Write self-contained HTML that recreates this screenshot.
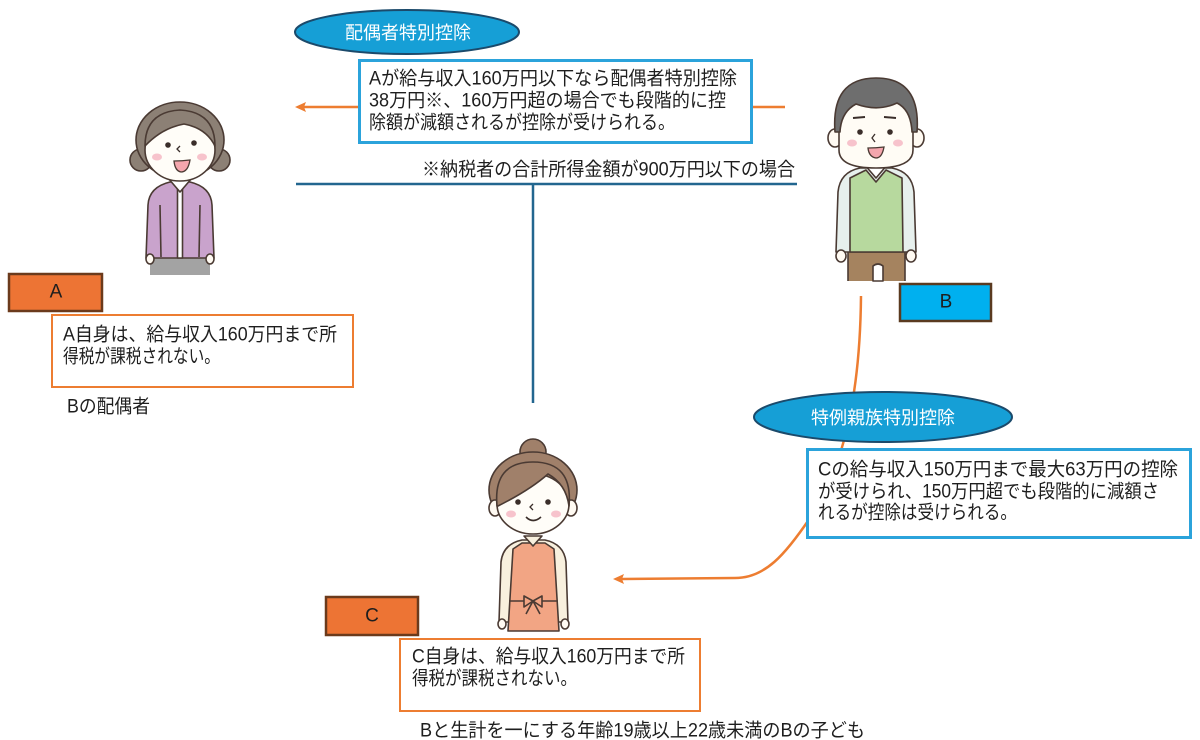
<!DOCTYPE html>
<html><head><meta charset="utf-8">
<style>
html,body{margin:0;padding:0;background:#fff;}
#c{position:relative;width:1200px;height:740px;overflow:hidden;background:#fff;}
svg{position:absolute;left:0;top:0;}
text{font-family:"Liberation Sans","Noto Sans CJK JP",sans-serif;font-size:19px;fill:#1e1e1e;}
</style></head>
<body><div id="c">
<svg width="1200" height="740" viewBox="0 0 1200 740" xmlns="http://www.w3.org/2000/svg">

<!-- connectors -->
<line x1="785" y1="107" x2="304" y2="107" stroke="#ed7d31" stroke-width="2.5"/>
<path d="M295,107 L306,102 L304,107 L306,112 Z" fill="#ed7d31"/>
<line x1="296" y1="184" x2="797" y2="184" stroke="#22668f" stroke-width="2.5"/>
<line x1="533" y1="184" x2="533" y2="403" stroke="#22668f" stroke-width="2.5"/>
<path d="M861,296 C860,400 842,470 810,518 C785,555 765,578 735,578 L622,579" fill="none" stroke="#ed7d31" stroke-width="2.5"/>
<path d="M613,579 L624,574 L622,579 L624,584 Z" fill="#ed7d31"/>

<!-- top ellipse + box -->
<ellipse cx="407" cy="32" rx="112" ry="22" fill="#169fd6" stroke="#1b4a6b" stroke-width="2"/>
<text x="408" y="33" text-anchor="middle" dominant-baseline="central" style="fill:#fff;font-size:18px">配偶者特別控除</text>
<rect x="359.5" y="60.5" width="392" height="82" fill="#fff" stroke="#2ba3db" stroke-width="3"/>
<text x="369" y="79" dominant-baseline="central" textLength="368" lengthAdjust="spacingAndGlyphs">Aが給与収入160万円以下なら配偶者特別控除</text>
<text x="369" y="101" dominant-baseline="central" textLength="357" lengthAdjust="spacingAndGlyphs">38万円※、160万円超の場合でも段階的に控</text>
<text x="369" y="123" dominant-baseline="central" textLength="306" lengthAdjust="spacingAndGlyphs">除額が減額されるが控除が受けられる。</text>

<text x="422" y="170" dominant-baseline="central" textLength="373" lengthAdjust="spacingAndGlyphs">※納税者の合計所得金額が900万円以下の場合</text>

<!-- right ellipse + box -->
<ellipse cx="883" cy="417" rx="129" ry="25" fill="#169fd6" stroke="#1b4a6b" stroke-width="2"/>
<text x="883" y="418" text-anchor="middle" dominant-baseline="central" style="fill:#fff;font-size:18px">特例親族特別控除</text>
<rect x="807.5" y="449.5" width="383" height="88" fill="#fff" stroke="#2ba3db" stroke-width="3"/>
<text x="818" y="470" dominant-baseline="central" textLength="360" lengthAdjust="spacingAndGlyphs">Cの給与収入150万円まで最大63万円の控除</text>
<text x="818" y="492" dominant-baseline="central" textLength="341" lengthAdjust="spacingAndGlyphs">が受けられ、150万円超でも段階的に減額さ</text>
<text x="818" y="513" dominant-baseline="central" textLength="199" lengthAdjust="spacingAndGlyphs">れるが控除は受けられる。</text>

<!-- Label boxes -->
<rect x="9" y="274" width="93" height="37" fill="#ed7434" stroke="#6b3a1c" stroke-width="2.5"/>
<text x="56" y="292" text-anchor="middle" dominant-baseline="central">A</text>
<rect x="900" y="284" width="91" height="37" fill="#00b0ef" stroke="#5a3a20" stroke-width="2.5"/>
<text x="946" y="302" text-anchor="middle" dominant-baseline="central">B</text>
<rect x="326" y="597" width="92" height="38" fill="#ed7434" stroke="#6b3a1c" stroke-width="2.5"/>
<text x="372" y="616" text-anchor="middle" dominant-baseline="central">C</text>

<!-- A text box -->
<rect x="52" y="315" width="301" height="72" fill="#fff" stroke="#ed7d31" stroke-width="2"/>
<text x="63" y="335" dominant-baseline="central" textLength="274" lengthAdjust="spacingAndGlyphs">A自身は、給与収入160万円まで所</text>
<text x="63" y="357" dominant-baseline="central" textLength="157" lengthAdjust="spacingAndGlyphs">得税が課税されない。</text>
<text x="67" y="407" dominant-baseline="central" textLength="83" lengthAdjust="spacingAndGlyphs">Bの配偶者</text>

<!-- C text box -->
<rect x="400" y="639" width="300" height="72" fill="#fff" stroke="#ed7d31" stroke-width="2"/>
<text x="412" y="657" dominant-baseline="central" textLength="273" lengthAdjust="spacingAndGlyphs">C自身は、給与収入160万円まで所</text>
<text x="412" y="679" dominant-baseline="central" textLength="165" lengthAdjust="spacingAndGlyphs">得税が課税されない。</text>
<text x="420" y="731" dominant-baseline="central" textLength="445" lengthAdjust="spacingAndGlyphs">Bと生計を一にする年齢19歳以上22歳未満のBの子ども</text>

<!-- Person A -->
<g stroke="#4a3a33" stroke-width="1.6" stroke-linejoin="round">
<rect x="150" y="250" width="60" height="25" fill="#a3a3a3" stroke="none"/>
<path d="M148,205 Q149,187 170,182 L190,182 Q211,187 212,205 L214,258 L146,258 Z" fill="#c9a3cc"/>
<rect x="177.5" y="186" width="5" height="72" fill="#fff"/>
<line x1="160" y1="205" x2="161" y2="257"/>
<line x1="200" y1="205" x2="199" y2="257"/>
<ellipse cx="150" cy="259" rx="4" ry="5" fill="#fffaf2"/>
<ellipse cx="210" cy="259" rx="4" ry="5" fill="#fffaf2"/>
<path d="M168,178 L180,192 L192,178 Z" fill="#fff"/>
<circle cx="141" cy="160" r="11" fill="#8c8075"/>
<circle cx="219" cy="160" r="11" fill="#8c8075"/>
<ellipse cx="180" cy="140" rx="44" ry="38" fill="#8c8075"/>
<ellipse cx="180" cy="150" rx="35" ry="31" fill="#fffdf8"/>
<path d="M145,146 Q145,112 180,110 Q215,112 215,146 Q206,128 184,124 Q162,128 145,146 Z" fill="#8c8075"/>
</g>
<circle cx="168" cy="145" r="2.8" fill="#3a2e2a"/>
<circle cx="194" cy="143" r="2.8" fill="#3a2e2a"/>
<path d="M180,146 L177,149 L180,152" fill="none" stroke="#3a2e2a" stroke-width="1.3"/>
<ellipse cx="157" cy="157" rx="5" ry="3.5" fill="#f7c3cc"/>
<ellipse cx="202" cy="157" rx="5" ry="3.5" fill="#f7c3cc"/>
<path d="M174,161 Q182,161 190,160 Q188,172 181,172 Q175,171 174,161 Z" fill="#f4a6ad" stroke="#4a3a33" stroke-width="1.3"/>

<!-- Person B -->
<g stroke="#4a3a33" stroke-width="1.6" stroke-linejoin="round">
<rect x="848" y="250" width="57" height="31" fill="#a5835f" stroke="none"/>
<line x1="848" y1="250" x2="848" y2="281"/>
<line x1="905" y1="250" x2="905" y2="281"/>
<path d="M873,281 L873,266 Q878,262 883,266 L883,281 Z" fill="#fff"/>
<path d="M838,192 Q840,172 860,168 L892,168 Q912,172 914,192 L916,252 L836,252 Z" fill="#e7f0ed"/>
<path d="M850,178 L866,170 L876,182 L886,170 L902,178 L903,252 L850,252 Z" fill="#b7d99e"/>
<ellipse cx="841" cy="256" rx="5" ry="6" fill="#fffaf2"/>
<ellipse cx="911" cy="256" rx="5" ry="6" fill="#fffaf2"/>
<path d="M864,164 L876,178 L888,164 Z" fill="#fff"/>
<ellipse cx="835" cy="138" rx="7" ry="9" fill="#fffaf2"/>
<ellipse cx="917" cy="138" rx="7" ry="9" fill="#fffaf2"/>
<path d="M839,112 Q839,98 876,98 Q913,98 913,112 L913,150 Q913,168 876,168 Q839,168 839,150 Z" fill="#fffcf5"/>
<path d="M835,132 Q831,78 876,78 Q921,78 917,132 L912,132 Q911,110 897,103 Q878,112 856,104 Q841,112 840,132 Z" fill="#6e6e6e"/>
</g>
<path d="M853,118 L865,117" stroke="#3a2e2a" stroke-width="2"/>
<path d="M884,117 L896,118" stroke="#3a2e2a" stroke-width="2"/>
<circle cx="860" cy="132" r="2.8" fill="#3a2e2a"/>
<circle cx="890" cy="132" r="2.8" fill="#3a2e2a"/>
<path d="M875,134 L872,138 L875,142" fill="none" stroke="#3a2e2a" stroke-width="1.3"/>
<ellipse cx="852" cy="143" rx="5" ry="3.5" fill="#f7c3cc"/>
<ellipse cx="898" cy="143" rx="5" ry="3.5" fill="#f7c3cc"/>
<path d="M868,148 Q876,148 884,147 Q882,158 876,158 Q869,157 868,148 Z" fill="#f4a6ad" stroke="#4a3a33" stroke-width="1.3"/>

<!-- Person C -->
<g stroke="#4a3a33" stroke-width="1.6" stroke-linejoin="round">
<path d="M501,562 Q503,544 522,540 L545,540 Q564,544 566,562 L568,622 L499,622 Z" fill="#f8f0de"/>
<path d="M513,549 L522,543 L545,543 L554,549 L559,631 L508,631 Z" fill="#f2a584"/>
<line x1="509" y1="601" x2="558" y2="601"/>
<path d="M533,601 L524,596 L524,607 Z M533,601 L542,596 L542,607 Z M533,601 L526,614 M533,601 L540,614" fill="#f2a584"/>
<ellipse cx="502" cy="624" rx="4" ry="5" fill="#fffaf2"/>
<ellipse cx="565" cy="624" rx="4" ry="5" fill="#fffaf2"/>
<path d="M524,536 L533,546 L542,536 Z" fill="#f8f0de"/>
<circle cx="533" cy="452" r="13" fill="#a0806a"/>
<ellipse cx="533" cy="490" rx="44" ry="38" fill="#a0806a"/>
<ellipse cx="495" cy="508" rx="6" ry="8" fill="#fffaf2"/>
<ellipse cx="571" cy="508" rx="6" ry="8" fill="#fffaf2"/>
<ellipse cx="533" cy="504" rx="36" ry="30" fill="#fffdf8"/>
<path d="M497,506 Q493,462 533,462 Q573,462 569,506 Q566,484 548,474 Q530,490 498,506 Z" fill="#a0806a"/>
</g>
<circle cx="518" cy="502" r="2.8" fill="#3a2e2a"/>
<circle cx="548" cy="502" r="2.8" fill="#3a2e2a"/>
<path d="M533,504 L530,507 L533,510" fill="none" stroke="#3a2e2a" stroke-width="1.3"/>
<ellipse cx="511" cy="514" rx="5" ry="3.5" fill="#f7c3cc"/>
<ellipse cx="556" cy="514" rx="5" ry="3.5" fill="#f7c3cc"/>
<path d="M526,517 Q533,524 541,517" fill="none" stroke="#3a2e2a" stroke-width="1.6"/>
</svg>
</div></body></html>
